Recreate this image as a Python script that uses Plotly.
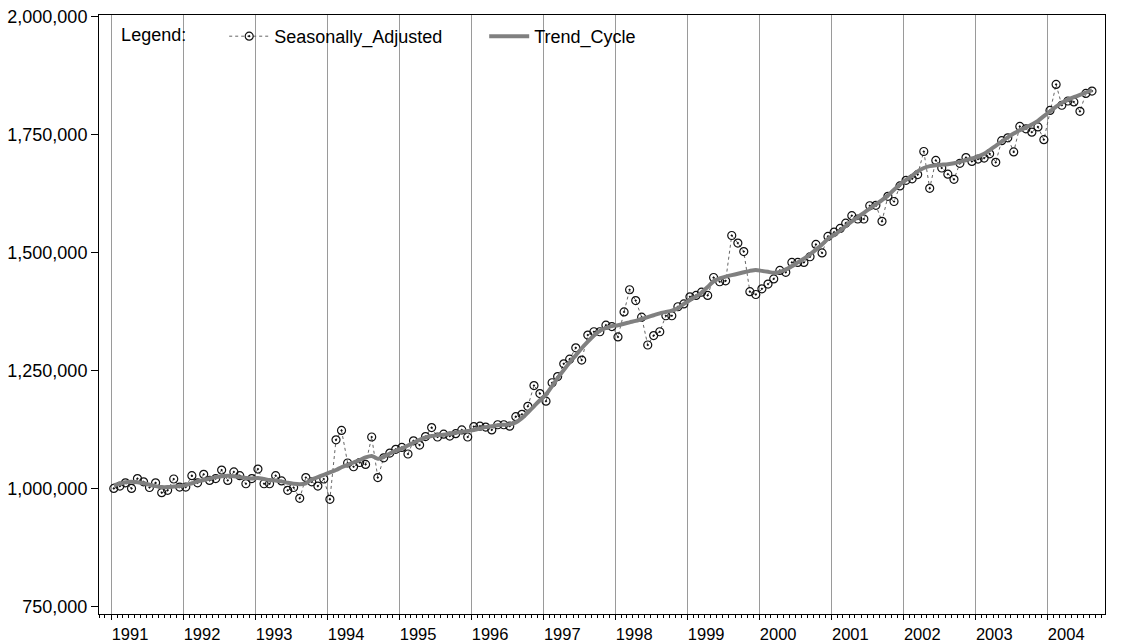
import plotly.graph_objects as go

# Monthly values in thousands, Jan 1991 - Aug 2004
seasonally_adjusted = [
    1001, 1006, 1013, 1001, 1022, 1015, 1003, 1013, 992, 997, 1021, 1004,
    1004, 1028, 1013, 1031, 1018, 1022, 1040, 1018, 1036, 1028, 1011, 1022,
    1042, 1011, 1011, 1028, 1017, 997, 1003, 980, 1024, 1015, 1006, 1021,
    978, 1104, 1124, 1055, 1047, 1056, 1052, 1110, 1024, 1066, 1076, 1084,
    1088, 1074, 1102, 1093, 1111, 1130, 1110, 1116, 1112, 1117, 1125, 1110,
    1132, 1133, 1131, 1125, 1136, 1136, 1133, 1153, 1158, 1175, 1219, 1202,
    1186, 1225, 1238, 1265, 1275, 1299, 1273, 1326, 1333, 1333, 1347, 1344,
    1322, 1375, 1422, 1399, 1364, 1305, 1325, 1333, 1367, 1367, 1386, 1392,
    1407, 1410, 1417, 1410, 1448, 1439, 1441, 1537, 1521, 1503, 1418, 1412,
    1424, 1434, 1445, 1463, 1459, 1480, 1480, 1480, 1492, 1518, 1500, 1535,
    1544, 1552, 1563, 1579, 1572, 1572, 1600, 1601, 1567, 1620, 1609, 1642,
    1654, 1657, 1666, 1715, 1637, 1696, 1680, 1667, 1656, 1690, 1702, 1694,
    1699, 1701, 1710, 1692, 1738, 1744, 1714, 1768, 1763, 1756, 1767, 1740,
    1802, 1857, 1813, 1822, 1820, 1800, 1838, 1843,
]

trend_cycle = [
    1008, 1011, 1014, 1015, 1014, 1012, 1009, 1006, 1004, 1004, 1005, 1006,
    1008, 1012, 1016, 1019, 1022, 1025, 1027, 1028, 1027, 1025, 1023, 1022,
    1023, 1021, 1019, 1018, 1016, 1013, 1011, 1010, 1012, 1020, 1025, 1030,
    1035, 1040, 1046, 1051, 1056, 1061, 1067, 1070, 1064, 1068, 1075, 1081,
    1086, 1092, 1098, 1104, 1109, 1112, 1114, 1115, 1117, 1119, 1121, 1123,
    1125, 1128, 1131, 1133, 1135, 1136, 1137, 1141, 1150, 1162, 1175, 1188,
    1200, 1218, 1235, 1252, 1268, 1283, 1298, 1312, 1325, 1335, 1341, 1345,
    1347, 1350, 1353, 1356, 1360, 1364, 1368, 1372, 1375, 1378, 1383, 1392,
    1400, 1408, 1416, 1428, 1440, 1446, 1450, 1453, 1456, 1459, 1462, 1464,
    1462, 1460, 1458, 1460, 1465, 1472, 1480, 1488, 1497, 1507, 1518, 1530,
    1538, 1547, 1557, 1567, 1576, 1585, 1594, 1603, 1612, 1622, 1634, 1645,
    1655, 1664, 1673, 1680, 1684, 1686, 1687, 1688, 1690, 1693, 1697, 1700,
    1704, 1710, 1718, 1727, 1736, 1745, 1753, 1760, 1766, 1772, 1780, 1790,
    1800, 1810, 1818, 1825, 1830, 1835, 1840, 1845,
]

start_year = 1991
dates = [f"{start_year + i // 12}-{i % 12 + 1:02d}-15" for i in range(len(seasonally_adjusted))]
sa_values = [v * 1000 for v in seasonally_adjusted]
tc_values = [v * 1000 for v in trend_cycle]

y_ticks = [750000, 1000000, 1250000, 1500000, 1750000, 2000000]

FONT = "Liberation Sans, Arial, Helvetica, sans-serif"
FS = 18

fig = go.Figure()
fig.add_trace(go.Scatter(
    x=dates, y=sa_values, name="Seasonally_Adjusted", mode="lines+markers",
    line=dict(color="#666666", width=1, dash="dot"),
    marker=dict(symbol="circle-open-dot", size=8, color="#111111", line=dict(width=1.2)),
))
fig.add_trace(go.Scatter(
    x=dates, y=tc_values, name="Trend_Cycle", mode="lines",
    line=dict(color="#808080", width=4, shape="spline", smoothing=0.6),
))

fig.update_layout(
    template="none",
    width=1127, height=643,
    margin=dict(l=99, r=22, t=15, b=29, autoexpand=False),
    paper_bgcolor="white", plot_bgcolor="white",
    font=dict(family=FONT, size=FS, color="black"),
    showlegend=True,
    legend=dict(
        orientation="h", x=0.020, y=0.995, xanchor="left", yanchor="top",
        title=dict(text="Legend:\u00a0\u00a0\u00a0\u00a0\u00a0\u00a0", side="left", font=dict(size=FS)),
        font=dict(size=FS), bgcolor="rgba(0,0,0,0)",
        itemwidth=40,
        entrywidth=205, entrywidthmode="pixels",
    ),
)

fig.update_xaxes(
    type="date", range=["1990-11-01", "2004-10-20"], automargin=False,
    tick0="1991-01-01", dtick="M12", tickformat="%Y",
    ticks="outside", ticklen=5, tickcolor="black",
    ticklabelshift=19,
    showline=True, linecolor="black", linewidth=1, mirror=True,
    showgrid=True, gridcolor="#9a9a9a", gridwidth=1.2,
    zeroline=False,
    minor=dict(dtick="M1", tick0="1991-01-01", ticks="outside", ticklen=3,
               tickcolor="black", showgrid=False),
    tickfont=dict(size=16.5),
)
fig.update_yaxes(
    range=[735000, 2004200], tickvals=y_ticks, tickformat=",d", automargin=False,
    ticks="outside", ticklen=7, tickcolor="black",
    showline=True, linecolor="black", linewidth=1, mirror=True,
    showgrid=False, zeroline=False,
    tickfont=dict(size=FS),
)

fig.write_html(
    "out.html",
    config={"displayModeBar": False},
    post_script="document.body.style.margin='0px';document.body.style.overflow='hidden';",
)
